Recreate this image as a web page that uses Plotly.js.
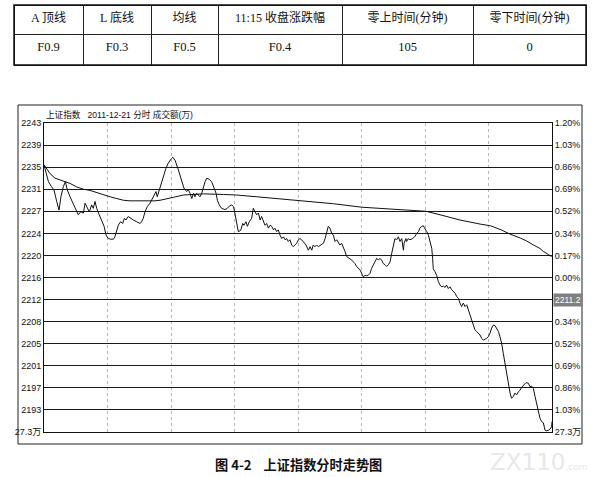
<!DOCTYPE html>
<html>
<head>
<meta charset="utf-8">
<script src="https://cdn.plot.ly/plotly-3.0.1.min.js"></script>
<style>
  html, body { margin: 0; padding: 0; background: #fff; }
  #chart { width: 604px; height: 477px; }
</style>
</head>
<body>
<div id="chart"></div>
<script>
// table above the chart
var tableHeaders = ['A 顶线', 'L 底线', '均线', '11:15 收盘涨跌幅', '零上时间(分钟)', '零下时间(分钟)'];
var tableValues = ['F0.9', 'F0.3', 'F0.5', 'F0.4', '105', '0'];

// intraday price (minutes since open, index level)
var priceMin = [0, 2.1, 3.6, 4.7, 6.0, 7.1, 8.0, 9.1, 10.1, 11.0, 12.3, 13.9, 15.4, 16.2, 17.3, 18.6, 19.4, 20.5, 21.4, 22.5,
  23.3, 24.1, 24.9, 26.1, 27.2, 28.4, 29.3, 30.4, 31.5, 32.8, 33.5, 34.3, 35.1, 36.2, 37.2, 38.0, 38.7, 39.8, 40.9, 42.2,
  43.8, 45.4, 46.1, 46.9, 47.7, 48.8, 50.1, 50.9, 52.0, 52.9, 53.5, 54.5, 55.6, 56.4, 57.6, 58.7, 59.5, 60.3, 60.8, 61.9,
  63.5, 65.0, 66.1, 67.4, 68.2, 69.0, 69.8, 70.6, 71.3, 72.1, 72.9, 73.7, 74.5, 75.3, 76.1, 76.9, 78.1, 79.2, 80.3, 81.3,
  81.9, 82.8, 83.9, 85.5, 86.6, 87.6, 88.7, 89.5, 89.9, 90.4, 91.0, 91.8, 92.9, 93.9, 94.5, 95.4, 96.1, 97.0, 98.1, 98.9,
  99.7, 100.5, 101.3, 102.1, 102.8, 103.6, 104.4, 105.2, 106.0, 106.8, 107.6, 108.4, 109.1, 109.9, 110.7, 111.5, 112.3, 113.1, 113.9, 114.7,
  115.4, 116.2, 117.0, 117.8, 118.6, 119.4, 120.2, 120.9, 121.7, 122.5, 123.8, 124.9, 125.7, 126.5, 127.2, 128.0, 128.8, 129.6, 130.7, 132.0,
  132.8, 133.5, 134.3, 135.1, 135.9, 136.7, 137.5, 138.3, 139.1, 139.8, 140.6, 141.4, 142.2, 143.0, 144.3, 145.4, 146.1, 146.9, 147.7, 148.5,
  149.3, 150.1, 150.9, 151.7, 152.4, 153.2, 154.0, 154.8, 155.6, 156.4, 157.2, 158.0, 158.7, 159.5, 160.3, 161.1, 161.9, 162.7, 163.5, 164.3,
  165.0, 165.8, 166.6, 167.4, 168.2, 169.0, 169.8, 170.1, 171.0, 171.3, 172.1, 172.9, 174.2, 175.3, 176.1, 176.9, 177.6, 178.4, 179.2, 180.0,
  180.8, 181.6, 182.4, 183.2, 183.6, 183.9, 184.7, 185.5, 186.3, 187.1, 187.9, 188.7, 189.5, 190.2, 191.0, 191.8, 192.6, 193.4, 194.2, 195.0,
  195.8, 196.5, 197.3, 198.1, 198.9, 199.7, 200.5, 201.3, 202.1, 202.8, 203.6, 204.4, 205.2, 206.0, 206.8, 207.6, 208.4, 209.1, 209.9, 210.7,
  211.5, 212.3, 213.1, 213.9, 214.7, 215.4, 216.2, 217.0, 217.8, 218.6, 219.4, 220.2, 220.9, 221.7, 222.5, 223.3, 224.1, 224.9, 225.7, 226.5,
  227.7, 228.8, 229.6, 230.4, 231.2, 232.0, 232.8, 233.5, 234.3, 235.1, 235.9, 236.7, 237.5, 238.3, 239.1, 239.8, 240.0];
var priceVal = [2235.8, 2232.9, 2232.0, 2231.5, 2229.5, 2228.0, 2230.3, 2232.0, 2232.9, 2231.5, 2230.3, 2228.9, 2227.7, 2227.2, 2227.7, 2227.5, 2229.2, 2228.3, 2227.7, 2228.9,
  2228.3, 2229.5, 2228.3, 2227.2, 2226.3, 2225.2, 2223.7, 2223.1, 2223.0, 2223.0, 2223.4, 2224.6, 2225.4, 2226.0, 2225.7, 2226.6, 2226.3, 2226.9, 2226.6, 2226.3,
  2226.0, 2225.7, 2226.0, 2226.6, 2227.7, 2228.6, 2229.2, 2229.7, 2230.6, 2231.2, 2230.3, 2231.5, 2232.6, 2233.8, 2235.2, 2236.1, 2236.6, 2236.9, 2237.1, 2236.6,
  2234.9, 2233.2, 2231.8, 2231.2, 2231.5, 2230.9, 2230.0, 2230.9, 2230.3, 2230.9, 2230.6, 2230.3, 2230.9, 2232.0, 2232.9, 2233.5, 2233.3, 2232.9, 2232.0, 2230.9,
  2229.7, 2228.9, 2228.3, 2228.1, 2228.3, 2228.7, 2228.9, 2228.6, 2228.0, 2226.9, 2225.4, 2224.3, 2224.5, 2225.7, 2225.4, 2226.0, 2225.2, 2226.0, 2226.6, 2228.3,
  2227.7, 2227.2, 2227.5, 2226.3, 2226.9, 2226.0, 2225.4, 2225.7, 2224.9, 2225.4, 2225.2, 2224.6, 2224.9, 2224.3, 2224.6, 2223.7, 2223.1, 2223.4, 2222.9, 2223.1,
  2222.6, 2222.9, 2222.0, 2221.7, 2222.0, 2222.3, 2222.9, 2223.1, 2222.9, 2222.6, 2222.0, 2221.1, 2221.7, 2221.1, 2222.0, 2221.7, 2222.0, 2221.7, 2222.0, 2222.3,
  2223.1, 2224.3, 2225.2, 2224.9, 2224.0, 2223.7, 2222.6, 2222.9, 2222.3, 2222.0, 2222.3, 2221.7, 2220.9, 2220.0, 2219.7, 2219.4, 2219.1, 2218.8, 2218.3, 2218.0,
  2217.7, 2217.1, 2216.5, 2216.8, 2216.7, 2216.8, 2217.1, 2218.0, 2218.6, 2219.1, 2219.7, 2219.4, 2219.7, 2219.4, 2218.8, 2218.6, 2218.3, 2218.6, 2219.1, 2220.6,
  2222.0, 2223.1, 2222.9, 2223.4, 2222.6, 2223.1, 2221.1, 2222.3, 2223.1, 2222.6, 2223.1, 2222.9, 2223.1, 2223.5, 2224.0, 2224.3, 2224.9, 2225.2, 2225.3, 2224.9,
  2224.3, 2223.7, 2222.3, 2221.4, 2219.7, 2217.9, 2217.4, 2216.8, 2215.7, 2215.1, 2214.8, 2214.9, 2214.7, 2215.1, 2214.5, 2214.8, 2214.3, 2214.0, 2213.7, 2213.1,
  2212.8, 2212.0, 2211.4, 2212.0, 2211.4, 2211.7, 2210.8, 2209.9, 2209.4, 2208.5, 2207.4, 2207.1, 2206.8, 2206.5, 2205.9, 2205.6, 2205.8, 2205.9, 2206.2, 2206.8,
  2207.7, 2208.2, 2208.1, 2207.7, 2207.1, 2206.2, 2205.1, 2203.3, 2201.6, 2199.9, 2197.9, 2196.5, 2195.6, 2195.9, 2196.5, 2196.2, 2196.7, 2197.0, 2197.5, 2197.9,
  2198.3, 2198.2, 2197.6, 2197.7, 2197.3, 2195.9, 2194.7, 2193.3, 2192.2, 2191.6, 2191.4, 2190.1, 2190.0, 2190.1, 2190.3, 2190.7, 2191.6];

// average price line
var avgMin = [0, 2.8, 5.2, 7.6, 9.9, 12.3, 15.4, 18.6, 21.7, 24.9, 28.0, 31.2, 34.3, 37.5, 40.6, 43.8, 46.9, 50.1, 52.4, 54.8,
  58.0, 61.1, 65.8, 75.3, 84.7, 91.0, 100.5, 109.9, 123.3, 136.7, 150.2, 165.8, 180.5, 187.1, 196.5, 206.0, 211.0, 216.0, 220.0, 225.0,
  228.0, 231.2, 234.3, 235.9, 239.8];
var avgVal = [2235.8, 2234.3, 2233.5, 2233.2, 2232.9, 2232.6, 2232.0, 2231.6, 2231.4, 2231.0, 2230.6, 2230.3, 2230.0, 2229.7, 2229.6, 2229.6, 2229.5, 2229.5, 2229.6, 2229.7,
  2229.9, 2230.2, 2230.6, 2230.8, 2230.7, 2230.6, 2230.3, 2230.0, 2229.6, 2229.1, 2228.5, 2228.1, 2227.8, 2227.2, 2226.3, 2225.6, 2225.3, 2224.6, 2223.9, 2223.2,
  2222.7, 2222.0, 2221.4, 2220.9, 2220.0];

// axis ticks
var priceTicks = [2189.8, 2193.6, 2197.4, 2201.2, 2205.0, 2208.8, 2212.6, 2216.4, 2220.2, 2224.0, 2227.8, 2231.6, 2235.4, 2239.2, 2243.0];
var leftTickText = ['27.3万', '2193', '2197', '2201', '2205', '2208', '2212', '2216', '2220', '2224', '2227', '2231', '2235', '2239', '2243'];
var rightTickText = ['27.3万', '1.03%', '0.86%', '0.69%', '0.52%', '0.34%', '', '0.00%', '0.17%', '0.34%', '0.52%', '0.69%', '0.86%', '1.03%', '1.20%'];
var timeTicks = [30, 60, 90, 120, 150, 180, 210];
var cursorValue = '2211.2';

var W = 604, H = 477;
function px(x) { return x / W; }
function py(y) { return 1 - y / H; }

var tickFont = { family: 'Liberation Sans, Arial, Noto Sans CJK SC', size: 9, color: '#111' };

var table = {
  type: 'table',
  domain: { x: [px(14), px(586)], y: [py(66), py(5)] },
  columnwidth: [69, 68, 67, 124, 131, 113],
  header: {
    values: tableHeaders,
    height: 29,
    align: 'center',
    line: { color: '#222', width: 1 },
    fill: { color: '#fff' },
    font: { family: 'Liberation Serif, Noto Sans CJK SC', size: 12, color: '#111' }
  },
  cells: {
    values: tableValues.map(function (v) { return [v]; }),
    height: 31,
    align: 'center',
    line: { color: '#222', width: 1 },
    fill: { color: '#fff' },
    font: { family: 'Liberation Serif, Noto Sans CJK SC', size: 12.5, color: '#111' }
  }
};

var price = {
  x: priceMin, y: priceVal,
  type: 'scatter', mode: 'lines',
  line: { color: '#111', width: 1 },
  xaxis: 'x', yaxis: 'y',
  hoverinfo: 'skip'
};

var avg = {
  x: avgMin, y: avgVal,
  type: 'scatter', mode: 'lines',
  line: { color: '#111', width: 1 },
  xaxis: 'x', yaxis: 'y2',
  hoverinfo: 'skip'
};

var yRange = [priceTicks[0], priceTicks[priceTicks.length - 1]];

var layout = {
  width: W, height: H,
  margin: { l: 0, r: 0, t: 0, b: 0 },
  paper_bgcolor: '#fff',
  plot_bgcolor: '#fff',
  showlegend: false,
  xaxis: {
    domain: [px(44), px(552)],
    range: [0, 240],
    tickvals: timeTicks,
    showticklabels: false,
    ticks: '',
    showgrid: true,
    gridcolor: '#999',
    griddash: 'dot',
    gridwidth: 0.7,
    zeroline: false,
    showline: true, mirror: true,
    linecolor: '#111', linewidth: 1
  },
  yaxis: {
    domain: [py(432), py(123)],
    range: yRange,
    tickvals: priceTicks,
    ticktext: leftTickText,
    ticks: '',
    tickfont: tickFont,
    showgrid: true,
    gridcolor: '#1a1a1a',
    gridwidth: 1,
    zeroline: false,
    showline: true,
    linecolor: '#111', linewidth: 1
  },
  yaxis2: {
    overlaying: 'y',
    side: 'right',
    range: yRange,
    tickvals: priceTicks,
    ticktext: rightTickText,
    ticks: '',
    tickfont: tickFont,
    showgrid: false,
    zeroline: false,
    showline: true,
    linecolor: '#111', linewidth: 1
  },
  shapes: [
    // outer frame of the chart window
    { type: 'rect', xref: 'paper', yref: 'paper', x0: px(18), x1: px(582), y0: py(444), y1: py(105),
      line: { color: '#222', width: 1 }, fillcolor: 'rgba(0,0,0,0)' },
    // heavier border round the table
    { type: 'rect', xref: 'paper', yref: 'paper', x0: px(14), x1: px(586), y0: py(65), y1: py(5),
      line: { color: '#111', width: 1.5 }, fillcolor: 'rgba(0,0,0,0)' }
  ],
  annotations: [
    { xref: 'paper', yref: 'paper', x: px(44), y: py(115), xanchor: 'left', yanchor: 'middle',
      text: '上证指数   2011-12-21 分时 成交额(万)', showarrow: false,
      font: { family: 'Liberation Sans, Noto Sans CJK SC', size: 8.6, color: '#111' } },
    { xref: 'paper', yref: 'y', x: px(553), y: priceTicks[6], xanchor: 'left', yanchor: 'middle',
      text: cursorValue, showarrow: false, bgcolor: '#808080', borderpad: 1,
      font: { family: 'Liberation Sans, Arial', size: 8.5, color: '#fff' } },
    { xref: 'paper', yref: 'paper', x: px(298), y: py(464), xanchor: 'center', yanchor: 'middle',
      text: '<b>图 4-2    上证指数分时走势图</b>', showarrow: false,
      font: { family: 'Noto Sans CJK SC', size: 13.2, color: '#111' } },
    { xref: 'paper', yref: 'paper', x: px(539), y: py(462), xanchor: 'center', yanchor: 'middle',
      text: 'ZX110<span style="font-size:9px">.com</span>', showarrow: false,
      font: { family: 'DejaVu Sans', size: 23, color: '#e8e8e8' } }
  ]
};

Plotly.newPlot('chart', [table, price, avg], layout, { staticPlot: true, displayModeBar: false });
</script>
</body>
</html>
